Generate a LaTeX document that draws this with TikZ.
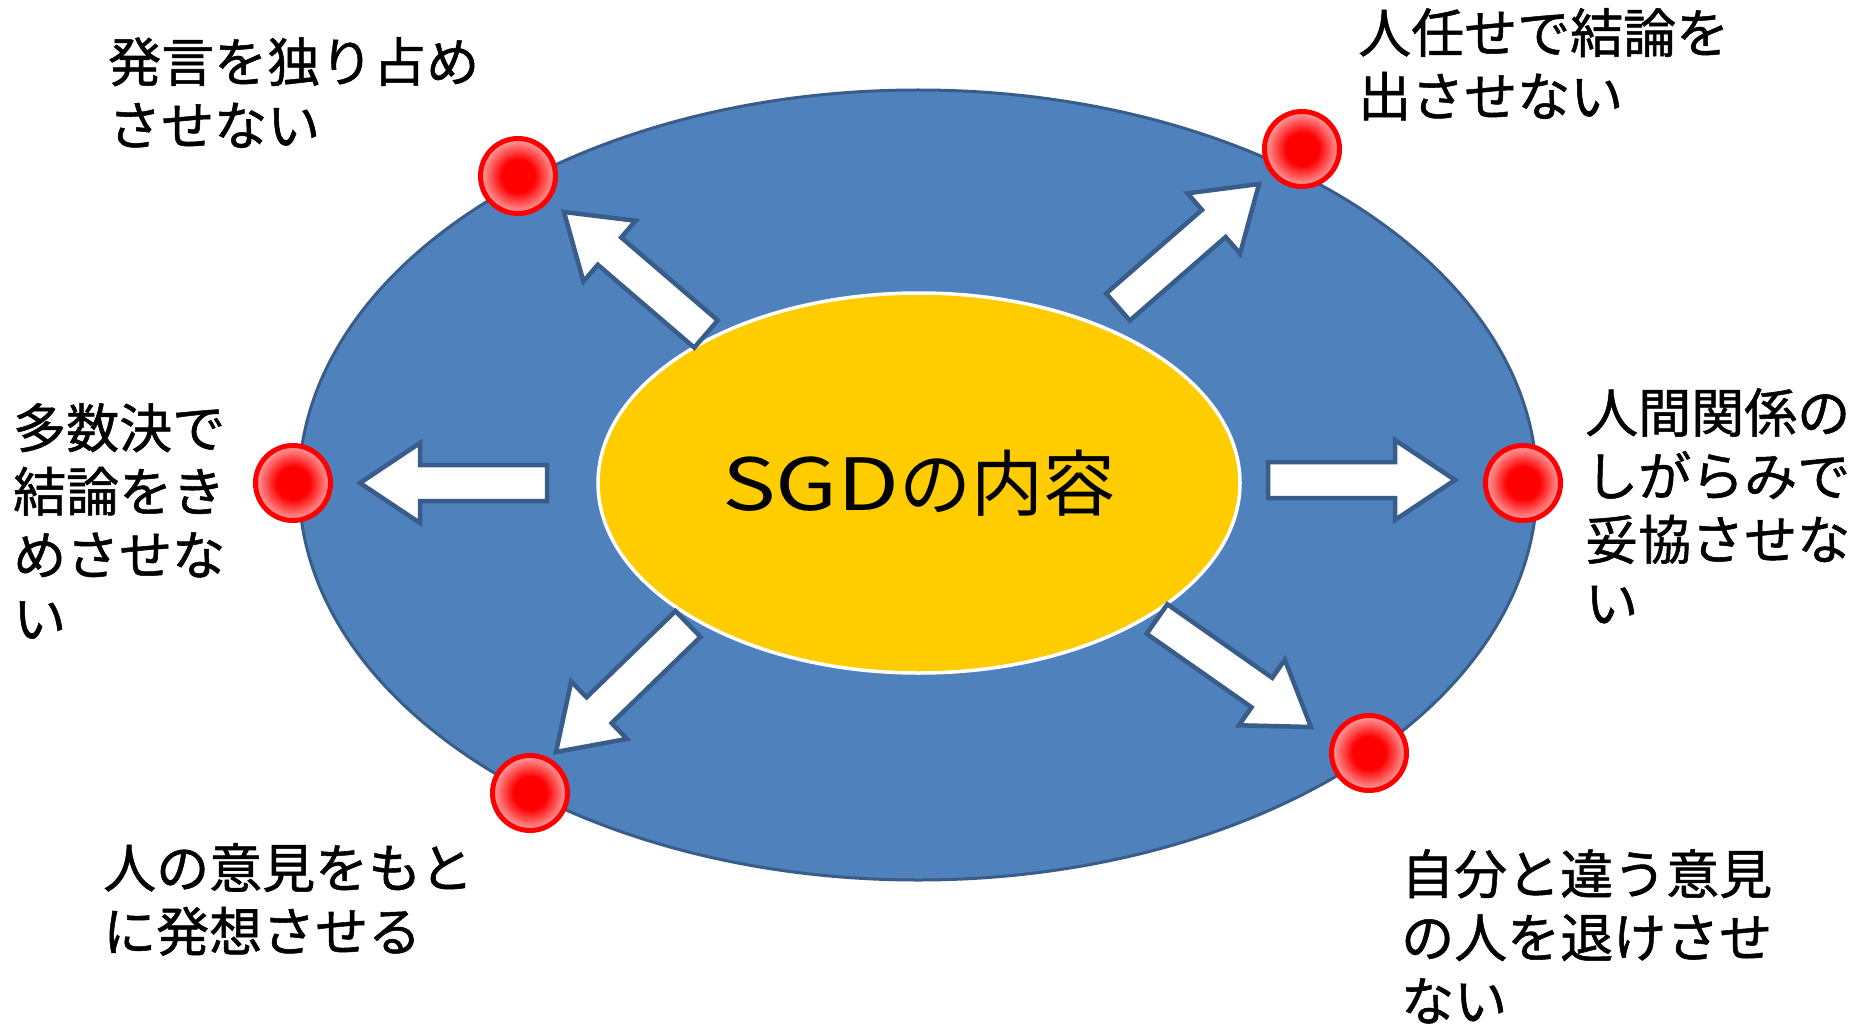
\documentclass[tikz,border=0pt]{standalone}
\usepackage{fontspec}
\newfontfamily\jp{Noto Sans CJK JP}
\newfontfamily\jpb[FakeBold=1]{Noto Sans CJK JP}
\usetikzlibrary{shapes.geometric,calc}
\definecolor{oblue}{HTML}{4F81BD}
\definecolor{oedge}{HTML}{385D8A}
\definecolor{gold}{HTML}{FFCC00}
\definecolor{dotpink}{HTML}{FF9A9A}
\pgfdeclareradialshading{dotshade}{\pgfpoint{0bp}{0bp}}{color(0bp)=(red); color(11bp)=(red); color(24bp)=(dotpink); color(50bp)=(dotpink)}
\newcommand\blockarrow[2]{%
  \path let \p1=($(#2)-(#1)$) in
    \pgfextra{\pgfmathsetmacro\barang{atan2(\y1,\x1)}\pgfmathsetmacro\barlen{veclen(\x1,\y1)}%
      \pgfmathsetmacro\barhb{\barlen-60}\xdef\barang{\barang}\xdef\barlen{\barlen}\xdef\barhb{\barhb}};
  \begin{scope}[shift={(#1)}, rotate=\barang]
    \draw[blockarr] (0pt,-18pt) -- (\barhb pt,-18pt) -- (\barhb pt,-40pt) -- (\barlen pt,0pt)
      -- (\barhb pt,40pt) -- (\barhb pt,18pt) -- (0pt,18pt) -- cycle;
  \end{scope}}
\begin{document}
\begin{tikzpicture}[x=1pt,y=-1pt,
  outerell/.style={ellipse, draw=oedge, line width=3pt, fill=oblue, minimum width=1238pt, minimum height=790pt, inner sep=0pt},
  innerell/.style={ellipse, draw=white, line width=3.5pt, fill=gold, minimum width=642pt, minimum height=380pt, inner sep=0pt, font=\jp\fontsize{72}{80}\selectfont},
  dot/.style={circle, draw=red, line width=5pt, shade, shading=dotshade, minimum size=75pt, inner sep=0pt},
  lbl/.style={anchor=north west, inner sep=0pt, align=left, font=\jpb\fontsize{53}{63.5}\selectfont},
  blockarr/.style={draw=oedge, line width=4.5pt, fill=white, line join=miter}]
\useasboundingbox (0,0) rectangle (1868,1027);
\node[outerell] (outer) at (918,485) {};
\node[innerell] (center) at (919,483) {{\addfontfeature{FakeStretch=1.25}SGD}の内容};
% arrow tails and tips
\coordinate (t1) at (547,483);  \coordinate (h1) at (360,483);
\coordinate (t2) at (1268,480); \coordinate (h2) at (1455,480);
\coordinate (t3) at (706,334);  \coordinate (h3) at (564,212);
\coordinate (t4) at (1118,307); \coordinate (h4) at (1259,184);
\coordinate (t5) at (688,624);  \coordinate (h5) at (556,752);
\coordinate (t6) at (1157,619); \coordinate (h6) at (1311,727);
\blockarrow{t1}{h1}
\blockarrow{t2}{h2}
\blockarrow{t3}{h3}
\blockarrow{t4}{h4}
\blockarrow{t5}{h5}
\blockarrow{t6}{h6}
% dots
\node[dot] (dTL) at (518,176) {};
\node[dot] (dTR) at (1302,149) {};
\node[dot] (dL) at (293,483) {};
\node[dot] (dR) at (1523,483) {};
\node[dot] (dBL) at (530,793) {};
\node[dot] (dBR) at (1369,753) {};
% labels
\node[lbl] (lTL) at (108,37) {発言を独り占め\\させない};
\node[lbl] (lTR) at (1358,8) {人任せで結論を\\出させない};
\node[lbl] (lL) at (13,403) {多数決で\\結論をき\\めさせな\\い};
\node[lbl] (lR) at (1585,388) {人間関係の\\しがらみで\\妥協させな\\い};
\node[lbl] (lBL) at (103,843) {人の意見をもと\\に発想させる};
\node[lbl] (lBR) at (1401,849) {自分と違う意見\\の人を退けさせ\\ない};
\end{tikzpicture}
\end{document}
